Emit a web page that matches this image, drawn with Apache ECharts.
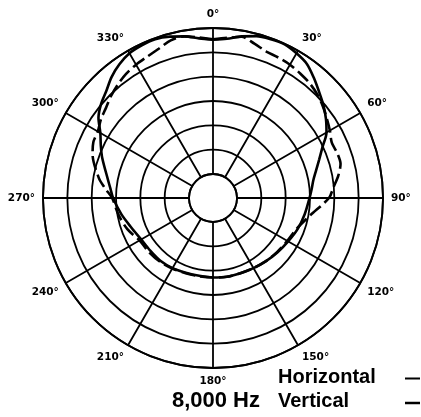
<!DOCTYPE html>
<html>
<head>
<meta charset="utf-8">
<script src="https://cdn.jsdelivr.net/npm/echarts@6/dist/echarts.min.js"></script>
<style>html,body{margin:0;padding:0;background:#fff;}#c{width:421px;height:417px;}</style>
</head>
<body>
<div id="c"></div>
<script>
// Angles (degrees, 0 at top, clockwise)
var angles = [0,5,10,15,20,25,30,35,40,45,50,55,60,65,70,75,80,85,90,100,110,120,130,140,150,160,170,180,190,200,210,220,230,240,250,260,270,275,280,290,295,300,305,310,315,320,325,330,335,340,345,350,355,360];
// Relative level in dB (rings every 5 dB, 0 dB outer)
var horizontal = [-2.4,-2.1,-1.2,-0.5,-0.2,-0.1,-0.6,-1.3,-2.7,-4.1,-5.3,-6.6,-8.0,-10.1,-11.7,-13.0,-14.0,-14.6,-15.1,-15.8,-16.4,-17.1,-17.6,-18.0,-18.3,-18.5,-18.5,-18.6,-18.7,-18.6,-18.3,-18.1,-18.1,-17.9,-17.1,-15.8,-14.4,-13.8,-13.0,-10.7,-9.5,-8.2,-6.2,-4.9,-3.9,-2.5,-1.4,-0.6,-0.3,-0.2,-0.6,-1.2,-2.0,-2.4];
var vertical = [-2.3,-1.9,-1.3,-2.1,-2.9,-3.1,-3.3,-3.7,-4.1,-4.7,-5.5,-6.4,-7.2,-8.0,-7.8,-7.8,-8.8,-10.1,-11.1,-14.6,-16.6,-17.3,-17.7,-18.0,-18.3,-18.5,-18.5,-18.6,-18.6,-18.5,-18.2,-17.9,-17.7,-17.5,-16.2,-15.2,-14.2,-12.7,-11.1,-8.6,-7.8,-7.6,-6.8,-6.2,-5.3,-4.5,-3.8,-3.3,-2.9,-2.3,-1.4,-1.2,-1.8,-2.3];
var seriesNames = ['Horizontal', 'Vertical'];
var frequencyLabel = '8,000 Hz';

function pairs(vals){ return vals.map(function(v,i){ return [v, angles[i]]; }); }

var chart = echarts.init(document.getElementById('c'), null, {renderer:'canvas'});
var FONT = '"Liberation Sans", Arial, sans-serif';
chart.setOption({
  animation: false,
  backgroundColor: '#fff',
  polar: { center: [213, 198], radius: [24, 170] },
  angleAxis: {
    type: 'value', min: 0, max: 360, interval: 30, startAngle: 90, clockwise: true,
    axisLine: { show: true, lineStyle: { color: '#000', width: 1.8 } },
    axisTick: { show: false },
    splitLine: { show: true, lineStyle: { color: '#000', width: 1.8 } },
    axisLabel: {
      show: true, margin: 8, color: '#000', fontSize: 10.5, fontWeight: 'bold', fontFamily: '"DejaVu Sans", sans-serif',
      formatter: function(v){ return v === 360 ? '' : v + '°'; }
    }
  },
  radiusAxis: {
    type: 'value', min: -30, max: 0, interval: 5,
    axisLine: { show: false }, axisTick: { show: false }, axisLabel: { show: false },
    splitLine: { show: true, lineStyle: { color: '#000', width: 1.8 } }
  },
  series: [
    { name: seriesNames[0], type: 'line', coordinateSystem: 'polar', data: pairs(horizontal),
      showSymbol: false, smooth: 0.3, lineStyle: { color: '#000', width: 2.6, type: 'solid' } },
    { name: seriesNames[1], type: 'line', coordinateSystem: 'polar', data: pairs(vertical),
      showSymbol: false, smooth: 0.3, lineStyle: { color: '#000', width: 2.6, type: [14, 5] } }
  ],
  graphic: [
    { type: 'text', left: 278, top: 367, style: { text: seriesNames[0], fill: '#000', font: 'bold 20px ' + FONT } },
    { type: 'text', left: 278, top: 391, style: { text: seriesNames[1], fill: '#000', font: 'bold 20px ' + FONT } },
    { type: 'text', right: 161, top: 390, style: { text: frequencyLabel, fill: '#000', font: 'bold 22px ' + FONT } },
    { type: 'line', shape: { x1: 405, y1: 378.5, x2: 420, y2: 378.5 }, style: { stroke: '#000', lineWidth: 2 } },
    { type: 'line', shape: { x1: 405, y1: 403, x2: 420, y2: 403 }, style: { stroke: '#000', lineWidth: 2.5 } }
  ]
});
</script>
</body>
</html>
